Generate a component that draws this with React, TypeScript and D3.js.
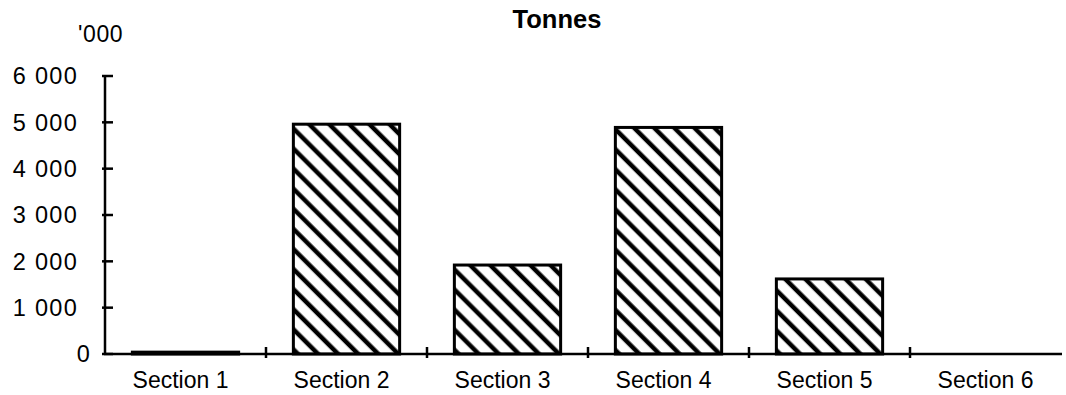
import React from "react";
import * as d3 from "d3";

const categories = ["Section 1", "Section 2", "Section 3", "Section 4", "Section 5", "Section 6"];
const values = [40, 4960, 1920, 4890, 1620, 0];
const yTicks = [0, 1000, 2000, 3000, 4000, 5000, 6000];
const title = "Tonnes";
const unitLabel = "'000";

const W = 1066;
const H = 395;
const FONT = "'Liberation Sans', Arial, Helvetica, sans-serif";

export default function App() {
  const x = d3.scaleBand<string>().domain(categories).range([105, 1071]).paddingInner(0.34).paddingOuter(0.17);
  const y = d3.scaleLinear().domain([0, 6000]).range([354, 76]);
  const step = x.step();
  const fmt = (v: number) => d3.format(",")(v).replace(/,/g, " ");
  const boundaries = categories.slice(1).map((c) => (x(c) as number) - (step * 0.34) / 2);

  return (
    <svg width={W} height={H} style={{ position: "absolute", left: 0, top: 0, background: "#fff" }}>
      <defs>
        <pattern id="hatch" patternUnits="userSpaceOnUse" width={14.2} height={14.2} patternTransform="rotate(-45)">
          <rect width={14.2} height={14.2} fill="#fff" />
          <line x1={3} y1={0} x2={3} y2={14.2} stroke="#000" strokeWidth={4.5} />
        </pattern>
      </defs>
      <rect width={W} height={H} fill="#fff" />
      <text x={557} y={28} textAnchor="middle" fontFamily={FONT} fontWeight="bold" fontSize={25.5} fill="#000">
        {title}
      </text>
      <text x={78} y={42} fontFamily={FONT} fontSize={23} letterSpacing={0.6} fill="#000">
        {unitLabel}
      </text>
      {categories.map((c, i) => {
        const v = values[i];
        if (v <= 0) return null;
        const x0 = x(c) as number;
        return (
          <rect
            key={c}
            x={x0}
            y={y(v)}
            width={x.bandwidth()}
            height={y(0) - y(v)}
            fill="url(#hatch)"
            stroke="#000"
            strokeWidth={3}
          />
        );
      })}
      {/* y axis */}
      <line x1={105} y1={y(6000)} x2={105} y2={y(0)} stroke="#000" strokeWidth={2.5} />
      {yTicks.map((t) => (
        <g key={t}>
          <line x1={102} x2={113} y1={y(t)} y2={y(t)} stroke="#000" strokeWidth={2.5} />
          <text
            x={t === 0 ? 91 : 78}
            y={y(t)}
            dy="0.36em"
            textAnchor="end"
            fontFamily={FONT}
            fontSize={23.5}
            letterSpacing={1.3}
            fill="#000"
          >
            {fmt(t)}
          </text>
        </g>
      ))}
      {/* x axis */}
      <line x1={104} y1={y(0)} x2={1062} y2={y(0)} stroke="#000" strokeWidth={2.5} />
      {boundaries.map((b, i) => (
        <line key={i} x1={b} x2={b} y1={y(0) - 7} y2={y(0) + 4} stroke="#000" strokeWidth={2.5} />
      ))}
      {categories.map((c) => (
        <text
          key={c}
          x={(x(c) as number) + x.bandwidth() / 2 - 5}
          y={388}
          textAnchor="middle"
          fontFamily={FONT}
          fontSize={23}
          fill="#000"
        >
          {c}
        </text>
      ))}
    </svg>
  );
}
